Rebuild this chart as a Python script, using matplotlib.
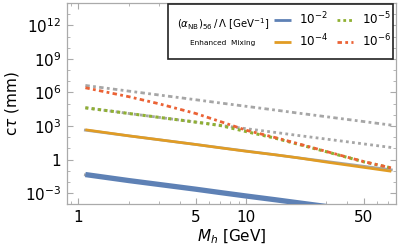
import numpy as np
import matplotlib
matplotlib.use("Agg")
import matplotlib.pyplot as plt
from matplotlib.patches import Rectangle
from matplotlib.ticker import FixedLocator, FixedFormatter, NullFormatter

# ---- data (log10 of c*tau in mm) ----
mass = [1.1, 2, 3, 5, 7, 10, 15, 20, 30, 50, 73]
log_enh6 = [6.63, 6.12, 5.78, 5.35, 5.06, 4.76, 4.42, 4.17, 3.83, 3.40, 3.08]
log_enh5 = [v - 2 for v in log_enh6]
log_enh4 = [v - 4 for v in log_enh6]
log_enh2 = [v - 8 for v in log_enh6]
log_a2 = [-1.34, -1.88, -2.22, -2.65, -2.95, -3.26, -3.60, -3.85, -4.20, -4.60, -4.90]
log_a4 = [2.67, 2.12, 1.78, 1.35, 1.05, 0.74, 0.42, 0.17, -0.23, -0.70, -1.05]
log_a5 = [4.63, 4.12, 3.78, 3.35, 3.05, 2.50, 1.90, 1.40, 0.70, -0.20, -0.75]
log_a6 = [6.42, 5.62, 5.00, 4.12, 3.40, 2.62, 1.95, 1.45, 0.72, -0.18, -0.75]
labels = [r"$10^{-2}$", r"$10^{-4}$", r"$10^{-5}$", r"$10^{-6}$"]
ytick_vals = [1e-3, 1, 1e3, 1e6, 1e9, 1e12]
ytick_labels = [r"$10^{-3}$", "1", r"$10^{3}$", r"$10^{6}$", r"$10^{9}$", r"$10^{12}$"]
xtick_vals = [1, 5, 10, 50]
xtick_labels = ["1", "5", "10", "50"]

blue = "#5E81B5"
orange = "#E19C24"
green = "#8FB032"
red = "#EB6235"
gray = "#A6A6A6"

fig = plt.figure(figsize=(4.07, 2.52), dpi=100)
ax = fig.add_axes([0.1646, 0.1893, 0.8076, 0.7987])

m = np.array(mass)
def p(v):
    return 10 ** np.array(v)

# enhanced-mixing (gray) curves
ax.plot(m, p(log_enh2), color=gray, lw=2.0, zorder=1)
ax.plot(m, p(log_enh4), color=gray, lw=2.0, zorder=1)
ax.plot(m, p(log_enh5), color=gray, lw=2.0, ls=(0, (1, 1.2)), zorder=1)
ax.plot(m, p(log_enh6), color=gray, lw=2.0, ls=(0, (1.6, 1.2, 1, 1.2)), zorder=1)

l2, = ax.plot(m, p(log_a2), color=blue, lw=3.8, solid_capstyle="butt", label=labels[0], zorder=3)
l4, = ax.plot(m, p(log_a4), color=orange, lw=1.9, solid_capstyle="butt", label=labels[1], zorder=3)
l5, = ax.plot(m, p(log_a5), color=green, lw=2.2, ls=(0, (1, 1.1)), label=labels[2], zorder=4)
l6, = ax.plot(m, p(log_a6), color=red, lw=2.0, ls=(0, (1.6, 1.2, 1, 1.2)), label=labels[3], zorder=5)

ax.set_xscale("log")
ax.set_yscale("log")
ax.set_xlim(0.855, 77.5)
ax.set_ylim(1e-4, 1e14)

# ticks
ax.yaxis.set_major_locator(FixedLocator(ytick_vals))
ax.yaxis.set_major_formatter(FixedFormatter(ytick_labels))
ax.yaxis.set_minor_locator(FixedLocator([10.0 ** k for k in range(-4, 15)]))
ax.yaxis.set_minor_formatter(NullFormatter())
ax.xaxis.set_major_locator(FixedLocator(xtick_vals))
ax.xaxis.set_major_formatter(FixedFormatter(xtick_labels))
minor_x = [0.9, 2, 3, 4, 6, 7, 8, 9, 20, 30, 40, 60, 70]
ax.xaxis.set_minor_locator(FixedLocator(minor_x))
ax.xaxis.set_minor_formatter(NullFormatter())

for axis in ["x", "y"]:
    ax.tick_params(axis=axis, which="major", direction="in", length=4.5, width=0.8,
                   color="#aaaaaa", labelsize=11, top=True, right=True, pad=4)
    ax.tick_params(axis=axis, which="minor", direction="in", length=2.5, width=0.6,
                   color="#aaaaaa", top=True, right=True)
for s in ax.spines.values():
    s.set_color("#aaaaaa")
    s.set_linewidth(0.9)

ax.set_xlabel(r"$M_h$ [GeV]", fontsize=11, labelpad=2)
ax.set_ylabel(r"c$\tau$ (mm)", fontsize=11, labelpad=3)

# legend box
box = Rectangle((0.307, 0.722), 0.684, 0.273, transform=ax.transAxes, fill=True,
                facecolor="white", edgecolor="#222222", lw=1.2, zorder=10)
ax.add_patch(box)
ax.text(0.475, 0.896, r"$(\alpha_{\rm NB})_{56}\,/\,\Lambda$ [GeV$^{-1}$]", transform=ax.transAxes,
        ha="center", va="center", fontsize=7.3, zorder=11)
ax.text(0.475, 0.803, "Enhanced  Mixing", transform=ax.transAxes,
        ha="center", va="center", fontsize=5.3, zorder=11)

leg = ax.legend(handles=[l2, l4, l5, l6], ncol=2, frameon=False, loc="center",
                bbox_to_anchor=(0.808, 0.866), fontsize=8.6, handlelength=1.4,
                handletextpad=0.7, columnspacing=0.7, labelspacing=0.4,
                borderpad=0.0)
leg.set_zorder(12)
for ln in leg.get_lines():
    ln.set_linewidth(2.0)

fig.savefig("out.png", dpi=100)
